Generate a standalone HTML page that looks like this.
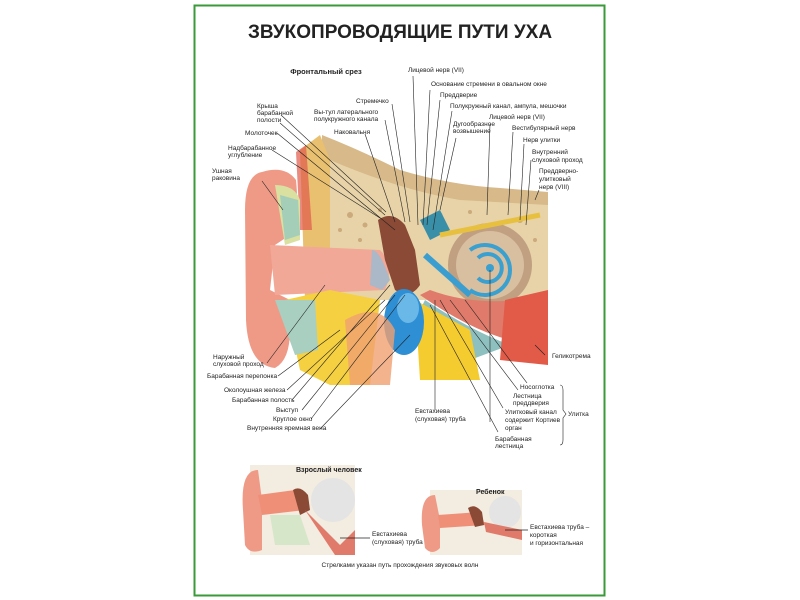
<!DOCTYPE html>
<html><head><meta charset="utf-8"><style>
html,body{margin:0;padding:0;background:#fff;width:800px;height:600px;overflow:hidden}
svg{display:block}
text{font-family:"Liberation Sans","DejaVu Sans",sans-serif;fill:#222}
.l{font-size:6.5px}
</style></head><body>
<svg width="800" height="600" viewBox="0 0 800 600">
<rect x="194.5" y="5.5" width="410" height="590" fill="#fff" stroke="#3a9a3a" stroke-width="2"/>
<text x="400" y="38" text-anchor="middle" font-size="19" font-weight="bold" fill="#111">ЗВУКОПРОВОДЯЩИЕ ПУТИ УХА</text>
<text x="326" y="74" text-anchor="middle" font-size="7.5" font-weight="bold">Фронтальный срез</text>

<!-- main illustration -->
<path d="M322 135 Q360 150 400 170 Q450 185 500 188 L548 192 L548 300 L470 300 L380 300 L320 290 Z" fill="#d7b98a"/>
<path d="M330 160 Q400 190 460 200 L548 205 L548 300 L330 300 Z" fill="#e8d3a8"/>
<g fill="#b89060" opacity="0.6">
<circle cx="350" cy="215" r="3"/><circle cx="365" cy="225" r="2.5"/><circle cx="340" cy="230" r="2"/><circle cx="380" cy="210" r="2"/><circle cx="520" cy="220" r="3"/><circle cx="535" cy="240" r="2"/><circle cx="440" cy="215" r="2.5"/><circle cx="470" cy="212" r="2"/><circle cx="360" cy="240" r="2"/>
</g>
<!-- red skin strips near ear top -->
<path d="M300 150 L320 135 L330 160 L330 300 L305 300 Z" fill="#e8c070"/>
<path d="M296 152 L306 145 L312 230 L300 230 Z" fill="#e05a4a" opacity="0.7"/>
<!-- outer ear -->
<path d="M262 172 Q245 175 245 210 L246 320 Q248 365 275 368 Q290 360 290 330 L290 300 L270 290 L275 245 L290 235 Q300 220 296 180 Q285 165 262 172 Z" fill="#ef9a86"/>
<path d="M275 185 Q295 185 300 200 L300 240 L285 245 Z" fill="#d9e0a0"/>
<path d="M280 195 L298 200 L300 235 L285 240 Z" fill="#8fc6c2" opacity="0.7"/>
<!-- canal -->
<path d="M270 245 L380 250 Q395 265 385 290 L275 295 Z" fill="#f2a896"/>
<path d="M285 300 L330 290 L380 300 L370 385 L330 385 L300 370 Z" fill="#f5d040"/>
<path d="M275 300 L315 300 L318 350 L295 355 Z" fill="#a8cfc0"/>
<!-- ossicles -->
<path d="M378 220 Q392 210 405 225 L415 250 L420 285 Q410 300 395 290 L385 260 Z" fill="#8a4a35"/>
<path d="M372 250 Q380 250 390 280 L382 290 L370 285 Z" fill="#aab8c8"/>
<path d="M420 220 L440 210 L450 230 L430 240 Z" fill="#3a8fa8"/>
<!-- cochlea -->
<circle cx="490" cy="265" r="42" fill="#c0a080"/>
<circle cx="490" cy="265" r="34" fill="#d8bfa0"/>
<path d="M470 250 A25 25 0 1 1 470 290" fill="none" stroke="#3aa0d0" stroke-width="4"/>
<path d="M478 258 A14 14 0 1 1 478 278" fill="none" stroke="#3aa0d0" stroke-width="4"/>
<circle cx="490" cy="268" r="4" fill="#3aa0d0"/>
<path d="M425 255 L470 295" stroke="#3a9fd0" stroke-width="6"/>
<path d="M440 235 L540 215" stroke="#e8c040" stroke-width="5"/>
<!-- tube and muscle -->
<path d="M420 295 Q470 330 510 340 L548 340 L548 295 L520 300 Q470 305 430 290 Z" fill="#e07a6a"/>
<path d="M425 300 Q470 330 510 345 L470 360 Q440 330 420 310 Z" fill="#8ec0c0"/>
<path d="M505 300 L548 290 L548 365 L500 360 Z" fill="#e25a48"/>
<path d="M415 300 L470 330 L480 380 L420 380 Z" fill="#f5cc30"/>
<ellipse cx="404" cy="322" rx="20" ry="33" fill="#2e8fd4"/>
<ellipse cx="408" cy="308" rx="11" ry="15" fill="#6ab8e8"/>
<path d="M345 320 Q380 300 395 330 L390 385 L350 385 Z" fill="#f0a070" opacity="0.8"/>

<!-- leader lines -->
<g stroke="#222" stroke-width="0.6" fill="none">
<line x1="262" y1="181" x2="283" y2="210"/>
<line x1="272" y1="150" x2="380" y2="218"/>
<line x1="277" y1="133" x2="395" y2="230"/>
<line x1="280" y1="123" x2="385" y2="215"/>
<line x1="281" y1="115" x2="386" y2="212"/>
<line x1="365" y1="134" x2="395" y2="222"/>
<line x1="385" y1="120" x2="405" y2="222"/>
<line x1="392" y1="104" x2="410" y2="222"/>
<line x1="413" y1="76" x2="418" y2="225"/>
<line x1="430" y1="90" x2="423" y2="225"/>
<line x1="440" y1="100" x2="427" y2="225"/>
<line x1="452" y1="111" x2="433" y2="230"/>
<line x1="456" y1="138" x2="440" y2="210"/>
<line x1="490" y1="124" x2="487" y2="215"/>
<line x1="513" y1="132" x2="508" y2="215"/>
<line x1="524" y1="144" x2="520" y2="220"/>
<line x1="531" y1="160" x2="526" y2="225"/>
<line x1="539" y1="190" x2="535" y2="200"/>
<line x1="267" y1="363" x2="325" y2="285"/>
<line x1="278" y1="376" x2="340" y2="330"/>
<line x1="287" y1="390" x2="385" y2="300"/>
<line x1="292" y1="400" x2="390" y2="285"/>
<line x1="302" y1="410" x2="395" y2="295"/>
<line x1="311" y1="419" x2="405" y2="295"/>
<line x1="320" y1="429" x2="410" y2="335"/>
<line x1="435" y1="410" x2="435" y2="300"/>
<line x1="527" y1="383" x2="465" y2="300"/>
<line x1="518" y1="390" x2="450" y2="300"/>
<line x1="503" y1="408" x2="440" y2="300"/>
<line x1="498" y1="432" x2="430" y2="305"/>
<line x1="545" y1="355" x2="535" y2="345"/>
<line x1="490" y1="422" x2="490" y2="270"/>
<path d="M560 385 Q563 385 563 390 L563 410 L566 414 L563 418 L563 440 Q563 445 560 445"/>
</g>

<!-- labels top -->
<g class="l">
<text x="408" y="72" class="l">Лицевой нерв (VII)</text>
<text x="431" y="86" class="l">Основание стремени в овальном окне</text>
<text x="440" y="97" class="l">Преддверие</text>
<text x="450" y="108" class="l">Полукружный канал, ампула, мешочки</text>
<text x="489" y="119" class="l">Лицевой нерв (VII)</text>
<text x="453" y="126" class="l">Дугообразное</text><text x="453" y="133" class="l">возвышение</text>
<text x="512" y="130" class="l">Вестибулярный нерв</text>
<text x="523" y="142" class="l">Нерв улитки</text>
<text x="532" y="154" class="l">Внутренний</text><text x="532" y="162" class="l">слуховой проход</text>
<text x="539" y="173" class="l">Преддверно-</text><text x="539" y="181" class="l">улитковый</text><text x="539" y="189" class="l">нерв (VIII)</text>
<text x="356" y="103" class="l">Стремечко</text>
<text x="314" y="114" class="l">Вы-тул латерального</text><text x="314" y="121" class="l">полукружного канала</text>
<text x="334" y="134" class="l">Наковальня</text>
<text x="257" y="108" class="l">Крыша</text><text x="257" y="115" class="l">барабанной</text><text x="257" y="122" class="l">полости</text>
<text x="245" y="135" class="l">Молоточек</text>
<text x="228" y="150" class="l">Надбарабанное</text><text x="228" y="157" class="l">углубление</text>
<text x="212" y="173" class="l">Ушная</text><text x="212" y="180" class="l">раковина</text>
<!-- bottom labels -->
<text x="213" y="359" class="l">Наружный</text><text x="213" y="366" class="l">слуховой проход</text>
<text x="207" y="378" class="l">Барабанная перепонка</text>
<text x="224" y="392" class="l">Околоушная железа</text>
<text x="232" y="402" class="l">Барабанная полость</text>
<text x="276" y="412" class="l">Выступ</text>
<text x="273" y="421" class="l">Круглое окно</text>
<text x="247" y="430" class="l">Внутренняя яремная вена</text>
<text x="415" y="413" class="l">Евстахиева</text><text x="415" y="421" class="l">(слуховая) труба</text>
<text x="552" y="358" class="l">Геликотрема</text>
<text x="520" y="389" class="l">Носоглотка</text>
<text x="513" y="398" class="l">Лестница</text><text x="513" y="405" class="l">преддверия</text>
<text x="505" y="414" class="l">Улитковый канал</text><text x="505" y="422" class="l">содержит Кортиев</text><text x="505" y="430" class="l">орган</text>
<text x="495" y="441" class="l">Барабанная</text><text x="495" y="448" class="l">лестница</text>
<text x="568" y="416" class="l">Улитка</text>
</g>

<!-- small illustrations: adult -->
<path d="M250 465 L355 465 L355 555 L250 555 Z" fill="#f3ece0"/>
<circle cx="333" cy="500" r="22" fill="#e4e4e4"/>
<path d="M258 470 Q240 470 243 510 L245 545 Q250 555 262 550 L262 500 Z" fill="#ef9a86"/>
<path d="M258 495 L295 490 L305 510 L262 515 Z" fill="#ef8f78"/>
<path d="M293 490 Q300 485 308 495 L310 510 L300 515 Z" fill="#8a4a35"/>
<path d="M305 510 L340 545 L355 530 L355 555 L335 555 Z" fill="#e07a6a"/>
<path d="M270 515 L300 515 L310 545 L275 545 Z" fill="#d6e6c8"/>
<text x="296" y="472" font-size="7" font-weight="bold">Взрослый человек</text>
<line x1="340" y1="538" x2="370" y2="538" stroke="#222" stroke-width="0.8"/>
<text x="372" y="536" class="l">Евстахиева</text><text x="372" y="544" class="l">(слуховая) труба</text>
<!-- child -->
<path d="M430 490 L522 490 L522 555 L430 555 Z" fill="#f3ece0"/>
<circle cx="505" cy="512" r="16" fill="#e4e4e4"/>
<path d="M435 495 Q420 495 422 525 L425 548 Q432 556 440 548 L440 520 Z" fill="#ef9a86"/>
<path d="M438 515 L480 512 L485 525 L440 528 Z" fill="#ef8f78"/>
<path d="M468 508 Q475 503 482 512 L484 525 L475 527 Z" fill="#8a4a35"/>
<path d="M484 522 L522 530 L522 540 L486 532 Z" fill="#e07a6a"/>
<text x="476" y="494" font-size="7" font-weight="bold">Ребенок</text>
<line x1="505" y1="530" x2="528" y2="530" stroke="#222" stroke-width="0.8"/>
<text x="530" y="529" class="l">Евстахиева труба –</text><text x="530" y="537" class="l">короткая</text><text x="530" y="545" class="l">и горизонтальная</text>
<text x="400" y="567" text-anchor="middle" class="l">Стрелками указан путь прохождения звуковых волн</text>
</svg>
</body></html>
